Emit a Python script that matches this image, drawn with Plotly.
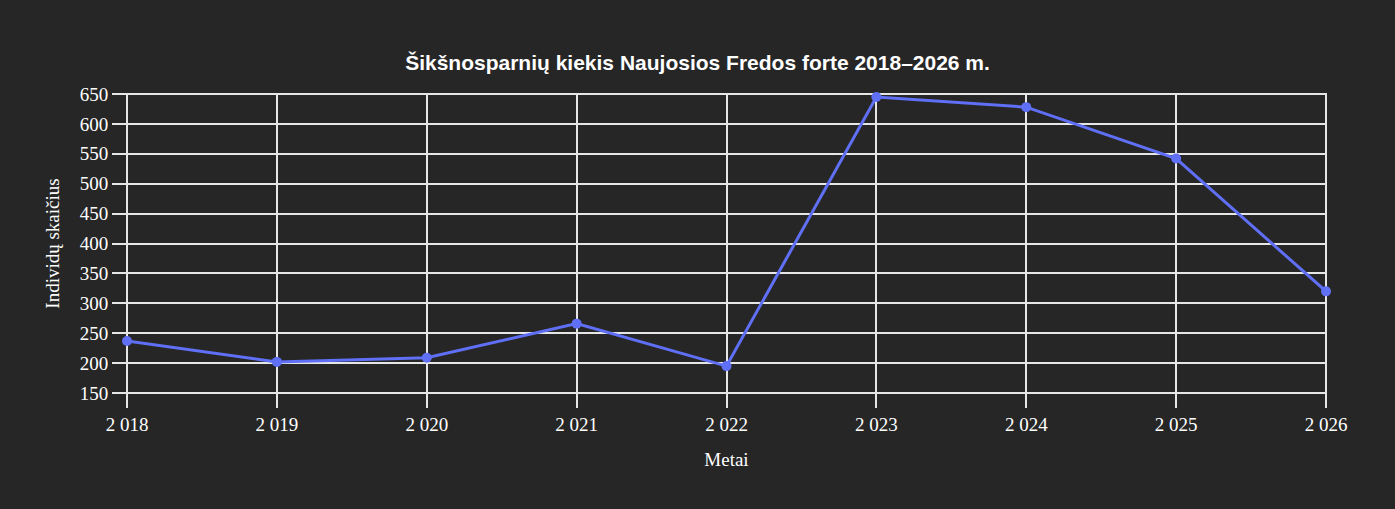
import plotly.graph_objects as go

years = [2018, 2019, 2020, 2021, 2022, 2023, 2024, 2025, 2026]
counts = [237, 202, 209, 266, 195, 645, 628, 542, 320]

bg = "#262626"
grid = "#e6e6e6"

fig = go.Figure(
    go.Scatter(
        x=years,
        y=counts,
        mode="lines+markers",
        line=dict(color="#5f6ff6", width=3),
        marker=dict(color="#5f6ff6", size=10),
        cliponaxis=False,
    )
)

fig.update_layout(
    width=1395,
    height=509,
    paper_bgcolor=bg,
    plot_bgcolor=bg,
    separators=". ",
    margin=dict(l=127, r=69, t=94, b=116),
    font=dict(family="Liberation Serif, Times New Roman, serif", size=16, color="white"),
    title=dict(
        text="<b>Šikšnosparnių kiekis Naujosios Fredos forte 2018–2026 m.</b>",
        x=0.5,
        xanchor="center",
        y=0.876,
        yanchor="middle",
        font=dict(family="Liberation Sans, Arial, sans-serif", size=21, color="white"),
    ),
    showlegend=False,
)

fig.update_xaxes(
    title=dict(text="Metai", standoff=18),
    range=[2018, 2026],
    dtick=1,
    separatethousands=True,
    tickfont=dict(size=19),
    showgrid=True,
    gridcolor=grid,
    gridwidth=2,
    ticks="outside",
    ticklen=14,
    tickwidth=2,
    tickcolor=grid,
    zeroline=False,
    showline=False,
)
fig.update_yaxes(
    title=dict(text="Individų skaičius", standoff=15),
    range=[150, 650],
    dtick=50,
    tickfont=dict(size=19),
    showgrid=True,
    gridcolor=grid,
    gridwidth=2,
    ticks="outside",
    ticklen=14,
    tickwidth=2,
    tickcolor=grid,
    zeroline=False,
    showline=False,
)

fig.add_shape(
    type="rect", xref="paper", yref="paper", x0=0, y0=0, x1=1, y1=1,
    line=dict(color=grid, width=2), layer="below",
)

fig.write_html(
    "out.html",
    config={"displayModeBar": False},
    post_script="document.body.style.margin='0';",
)
